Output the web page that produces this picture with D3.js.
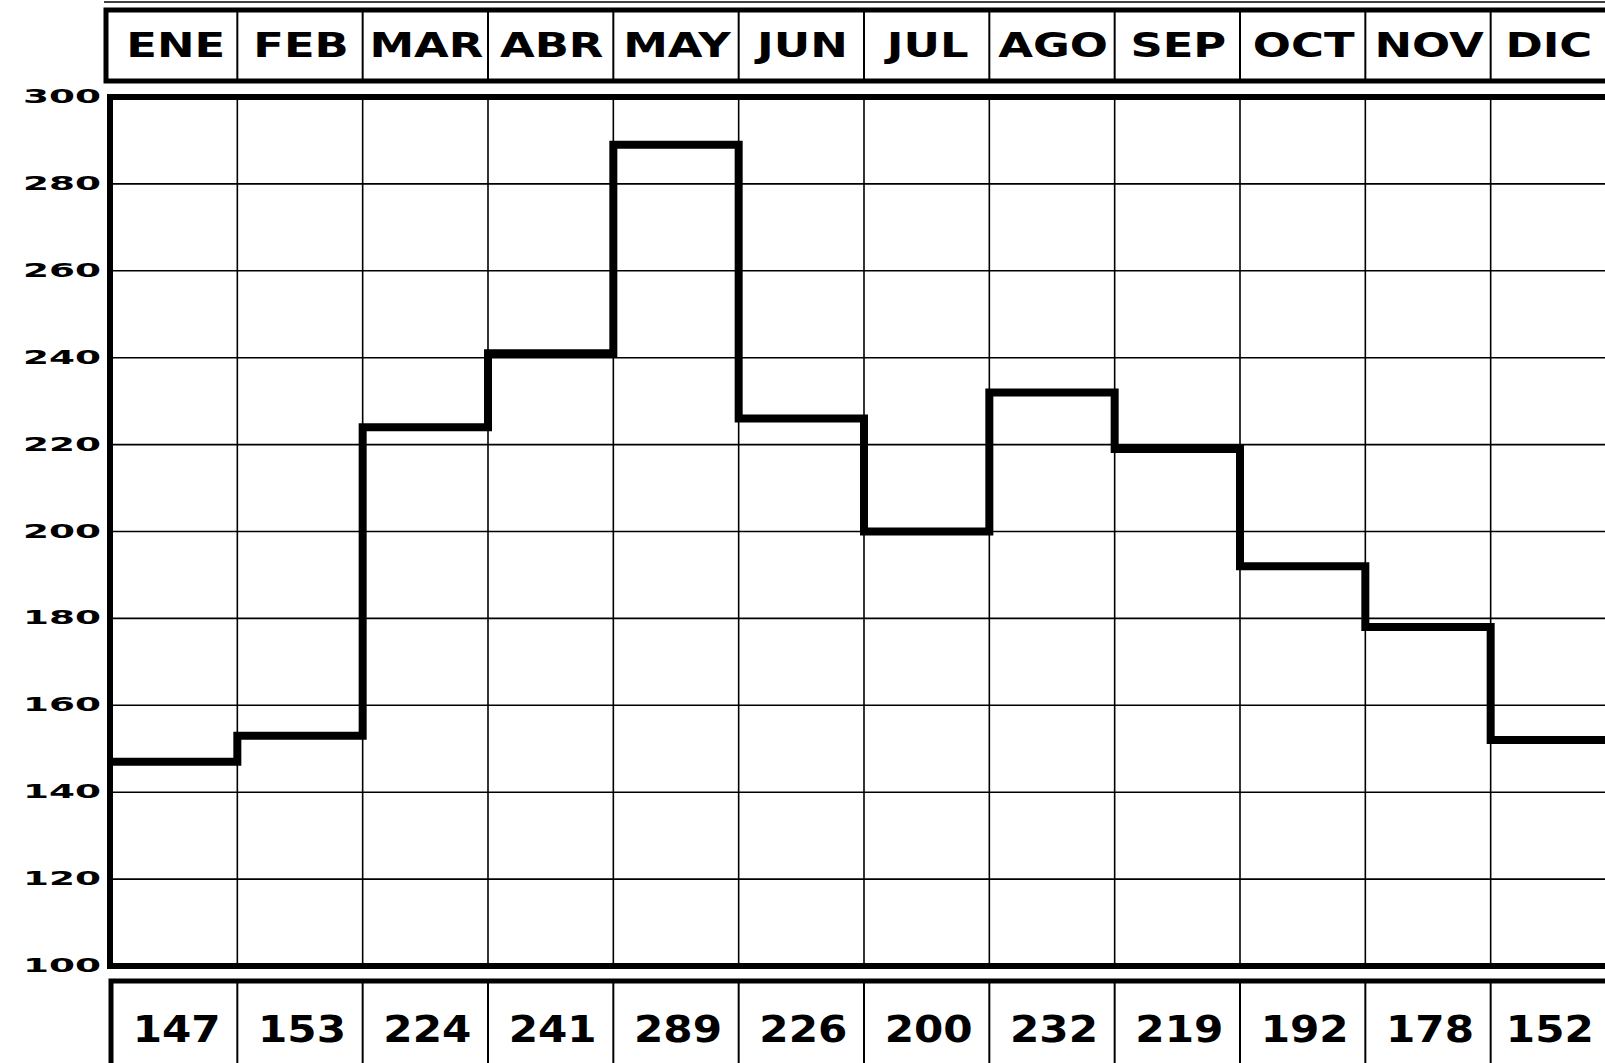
<!DOCTYPE html>
<html>
<head>
<meta charset="utf-8">
<script src="https://cdn.jsdelivr.net/npm/d3@7"></script>
<style>
  html, body { margin: 0; padding: 0; background: #fff; overflow: hidden; }
  svg { display: block; }
  text { font-family: "DejaVu Sans", sans-serif; font-weight: bold; fill: #000; }
</style>
</head>
<body>
<div id="chart"></div>
<script>
// Data
const months = ["ENE", "FEB", "MAR", "ABR", "MAY", "JUN", "JUL", "AGO", "SEP", "OCT", "NOV", "DIC"];
const values = [147, 153, 224, 241, 289, 226, 200, 232, 219, 192, 178, 152];
const yTicks = [100, 120, 140, 160, 180, 200, 220, 240, 260, 280, 300];

const W = 1605, H = 1063;
// chart runs past the right edge of the page, as in the scan
const plot = {left: 110, right: 1616, top: 97, bottom: 966};

const svg = d3.select("#chart").append("svg")
  .attr("width", W)
  .attr("height", H);

// scales
const x = d3.scaleLinear().domain([0, months.length]).range([112, plot.right]);
const y = d3.scaleLinear().domain([100, 300]).range([plot.bottom, plot.top]);

// grid
const grid = svg.append("g").attr("stroke", "#000").attr("stroke-width", 1.6);
grid.selectAll("line.h")
  .data(yTicks.slice(1, -1))
  .join("line")
  .attr("class", "h")
  .attr("x1", plot.left).attr("x2", plot.right)
  .attr("y1", d => y(d)).attr("y2", d => y(d));
grid.selectAll("line.v")
  .data(d3.range(1, months.length))
  .join("line")
  .attr("class", "v")
  .attr("x1", d => x(d)).attr("x2", d => x(d))
  .attr("y1", plot.top).attr("y2", plot.bottom);

// plot frame
svg.append("rect")
  .attr("x", plot.left).attr("y", plot.top)
  .attr("width", plot.right - plot.left).attr("height", plot.bottom - plot.top)
  .attr("fill", "none").attr("stroke", "#000").attr("stroke-width", 6);

// y labels
svg.append("g").selectAll("text")
  .data(yTicks)
  .join("text")
  .attr("x", 101)
  .attr("y", d => y(d) - 1)
  .attr("text-anchor", "end")
  .attr("dominant-baseline", "central")
  .attr("textLength", 78)
  .attr("lengthAdjust", "spacingAndGlyphs")
  .style("font-size", "19px")
  .text(d => d);

// header box with month names
const header = svg.append("g");
header.append("line")
  .attr("x1", 104).attr("x2", W)
  .attr("y1", 2).attr("y2", 2)
  .attr("stroke", "#000").attr("stroke-width", 1.5);
header.append("rect")
  .attr("x", 106).attr("y", 10)
  .attr("width", W + 20 - 106).attr("height", 71)
  .attr("fill", "none").attr("stroke", "#000").attr("stroke-width", 5);
header.selectAll("line.sep")
  .data(d3.range(1, months.length))
  .join("line")
  .attr("class", "sep")
  .attr("x1", d => x(d)).attr("x2", d => x(d))
  .attr("y1", 10).attr("y2", 81)
  .attr("stroke", "#000").attr("stroke-width", 2);
header.selectAll("text")
  .data(months)
  .join("text")
  .attr("transform", (d, i) => `translate(${(x(i) + Math.min(x(i + 1), W)) / 2 + 1},57) scale(1.36,1)`)
  .attr("text-anchor", "middle")
  .style("font-size", "33px")
  .text(d => d);

// bottom box with values
const footer = svg.append("g");
footer.append("rect")
  .attr("x", 111).attr("y", 981)
  .attr("width", W + 20 - 111).attr("height", 120)
  .attr("fill", "none").attr("stroke", "#000").attr("stroke-width", 5);
footer.selectAll("line")
  .data(d3.range(1, months.length))
  .join("line")
  .attr("x1", d => x(d)).attr("x2", d => x(d))
  .attr("y1", 981).attr("y2", H)
  .attr("stroke", "#000").attr("stroke-width", 2);
footer.selectAll("text")
  .data(values)
  .join("text")
  .attr("x", (d, i) => (x(i) + Math.min(x(i + 1), W)) / 2 + 2)
  .attr("y", 1042)
  .attr("text-anchor", "middle")
  .attr("textLength", 88)
  .attr("lengthAdjust", "spacingAndGlyphs")
  .style("font-size", "38px")
  .text(d => d);

// step line
const pts = values.map((v, i) => [i, v]).concat([[months.length, values[values.length - 1]]]);
const line = d3.line()
  .x(d => Math.max(x(d[0]), plot.left))
  .y(d => y(d[1]))
  .curve(d3.curveStepAfter);
svg.append("path")
  .datum(pts)
  .attr("d", line)
  .attr("fill", "none")
  .attr("stroke", "#000")
  .attr("stroke-width", 8)
  .attr("stroke-linejoin", "miter");
</script>
</body>
</html>
